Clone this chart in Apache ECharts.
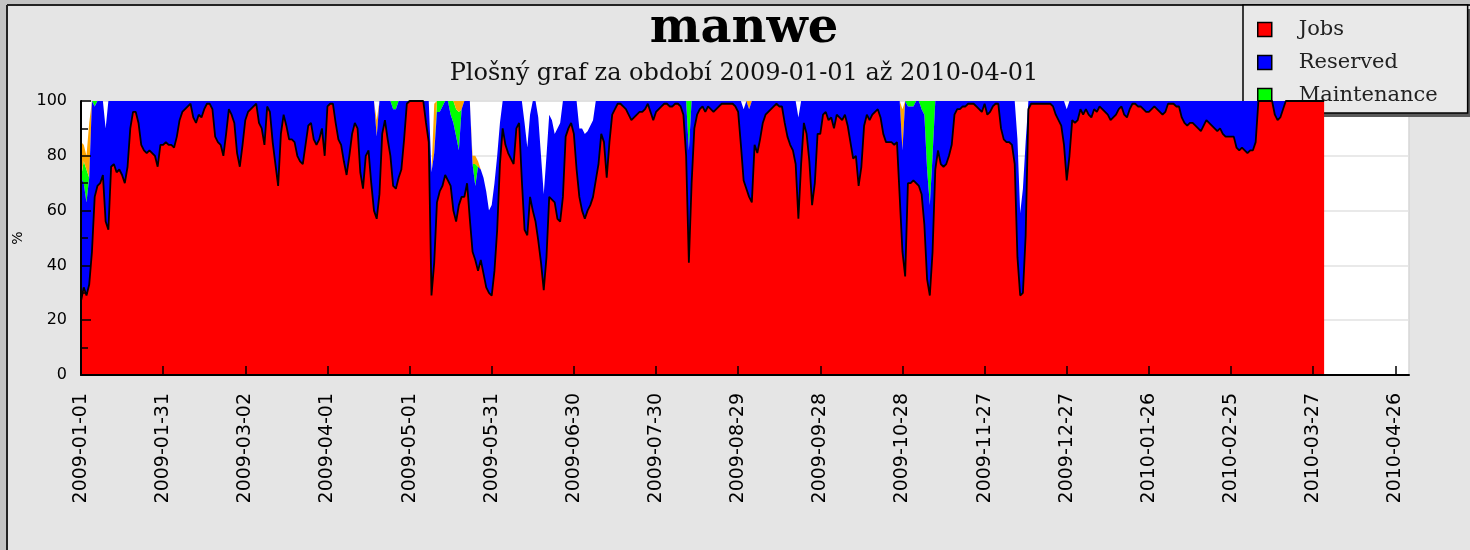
<!DOCTYPE html>
<html><head><meta charset="utf-8">
<script src="https://cdn.jsdelivr.net/npm/echarts@6/dist/echarts.min.js"></script>
<style>html,body{margin:0;padding:0;background:#e5e5e5}#main{width:1470px;height:550px}</style>
</head><body><div id="main"></div>
<script>
const titleText = 'manwe';
const subtitleText = 'Plošný graf za období 2009-01-01 až 2010-04-01';
const legendNames = ['Jobs', 'Reserved', 'Maintenance'];
const tickLabels = ['2009-01-01','2009-01-31','2009-03-02','2009-04-01','2009-05-01','2009-05-31','2009-06-30','2009-07-30','2009-08-29','2009-09-28','2009-10-28','2009-11-27','2009-12-27','2010-01-26','2010-02-25','2010-03-27','2010-04-26'];
const tickStepDays = 30;
const yTicks = [0, 20, 40, 60, 80, 100];
const axisStart = '2009-01-01';
const axisDays = 486;   // 2009-01-01 .. 2010-05-01

// one value per day from 2009-01-01 (%)
const jobs = [
27,32,29,33,45,65,69,70,73,56,
53,76,77,74,75,73,70,76,90,96,
96,92,84,82,81,82,81,80,76,84,
84,85,84,84,83,87,93,96,97,98,
99,94,92,95,94,97,99,99,97,87,
85,84,80,88,97,95,92,81,76,84,
93,96,97,98,99,92,90,84,98,96,
85,77,69,88,95,91,86,86,85,80,
78,77,84,91,92,86,84,86,90,80,
98,99,99,92,86,84,78,73,80,88,
92,90,74,68,80,82,70,60,57,66,
88,93,86,80,69,68,72,75,86,99,
100,100,100,100,100,100,92,85,29,41,
63,67,69,73,71,69,60,56,62,65,
65,70,57,45,42,38,42,37,32,30,
29,38,53,77,90,84,81,79,77,90,
92,71,53,51,65,60,56,49,41,31,
43,65,64,63,57,56,65,87,90,92,
88,75,65,60,57,60,62,65,71,77,
88,85,72,85,95,97,99,99,98,97,
95,93,94,95,96,96,97,99,96,93,
96,97,98,99,99,98,98,99,99,98,
95,80,41,70,90,95,97,98,96,98,
97,96,97,98,99,99,99,99,99,98,
96,84,71,68,65,63,84,81,86,92,
95,96,97,98,99,98,98,92,87,84,
82,77,57,77,92,88,78,62,70,88,
88,95,96,93,94,90,95,94,93,95,
91,85,79,80,69,76,91,95,93,95,
96,97,94,88,85,85,85,84,85,65,
45,36,70,70,71,70,69,66,55,35,
29,45,75,82,77,76,77,80,84,95,
97,97,98,98,99,99,99,98,97,96,
99,95,96,98,99,99,90,86,85,85,
84,77,43,29,30,51,97,99,99,99,
99,99,99,99,99,98,95,93,91,84,
71,80,93,92,93,97,95,97,95,94,
97,96,98,97,96,95,93,94,95,97,
98,95,94,97,99,99,98,98,97,96,
96,97,98,97,96,95,96,99,99,99,
98,98,94,92,91,92,92,91,90,89,
91,93,92,91,90,89,90,88,87,87,
87,87,83,82,83,82,81,82,82,85,
100,100,100,100,100,100,95,93,94,97,
100,100,100,100,100,100,100,100,100,100,
100,100,100,100,100
];
const reserved = [
45,38,34,39,55,33,31,30,27,34,
47,24,23,26,25,27,30,24,10,4,
4,8,16,18,19,18,19,20,24,16,
16,15,16,16,17,13,7,4,3,2,
1,6,8,5,6,3,1,1,3,13,
15,16,20,12,3,5,8,19,24,16,
7,4,3,2,1,8,10,16,2,4,
15,23,31,12,5,9,14,14,15,20,
22,23,16,9,8,14,16,14,10,20,
2,1,1,8,14,16,22,27,20,12,
8,10,26,32,20,18,30,40,30,34,
12,7,14,20,28,29,28,25,14,1,
0,0,0,0,0,0,8,15,45,40,
33,29,29,27,29,26,32,31,20,32,
35,30,43,32,27,38,33,35,35,30,
33,32,27,15,10,16,19,21,23,10,
8,29,39,32,30,40,44,45,39,35,
37,30,29,25,33,36,35,13,10,8,
12,25,25,30,31,29,29,28,29,23,
12,15,28,15,5,3,1,1,2,3,
5,7,6,5,4,4,3,1,4,7,
4,3,2,1,1,2,2,1,1,2,
5,20,41,30,10,5,3,2,4,2,
3,4,3,2,1,1,1,1,1,2,
4,16,26,32,32,37,16,19,14,8,
5,4,3,2,1,2,2,8,13,16,
18,23,37,23,8,12,22,38,30,12,
12,5,4,7,6,10,5,6,7,5,
9,15,21,20,31,24,9,5,7,5,
4,3,6,12,15,15,15,16,15,35,
37,64,28,28,27,30,31,31,40,40,
33,35,25,18,23,24,23,20,16,5,
3,3,2,2,1,1,1,2,3,4,
1,5,4,2,1,1,10,14,15,15,
16,23,43,30,38,34,3,1,1,1,
1,1,1,1,1,2,5,7,9,16,
26,20,7,8,7,3,5,3,5,6,
3,4,2,3,4,5,7,6,5,3,
2,5,6,3,1,1,2,2,3,4,
4,3,2,3,4,5,4,1,1,1,
2,2,6,8,9,8,8,9,10,11,
9,7,8,9,10,11,10,12,13,13,
13,13,17,18,17,18,19,18,18,15,
0,0,0,0,0,0,5,7,6,3,
0,0,0,0,0,0,0,0,0,0,
0,0,0,0,0
];
// [day index, value] for days where it is non-zero
const maintenanceDays = [[1,8],[2,12],[5,2],[114,3],[115,3],[130,4],[131,4],[132,2],[135,5],[136,8],[137,10],[138,14],[144,8],[222,18],[302,2],[303,2],[304,2],[307,3],[308,5],[309,25],[310,38],[311,20]];
const otherDays = [[0,13],[1,6],[2,5],[3,20],[108,6],[129,18],[137,3],[138,4],[139,3],[143,3],[144,3],[145,2],[244,3],[300,15]];

const numDays = jobs.length;
function expand(pairs) { const a = new Array(numDays).fill(0); pairs.forEach(p => { a[p[0]] = p[1]; }); return a; }
const maintenance = expand(maintenanceDays);
const other = expand(otherDays);

const t0 = Date.parse(axisStart + 'T00:00:00Z');
const categories = Array.from({ length: axisDays }, (_, i) => new Date(t0 + i * 86400000).toISOString().slice(0, 10));

function areaSeries(name, data, color, z, line) {
  return {
    name: name, type: 'line', stack: 'total', symbol: 'none', z: z,
    data: data,
    itemStyle: { color: color },
    lineStyle: line ? { color: '#000', width: 1.8 } : { width: 0, opacity: 0 },
    areaStyle: { color: color, opacity: 1 },
    emphasis: { disabled: true },
    silent: true
  };
}

const chart = echarts.init(document.getElementById('main'), null, { renderer: 'canvas' });
chart.setOption({
  animation: false,
  backgroundColor: '#e5e5e5',
  title: {
    text: titleText, subtext: subtitleText, left: 744, textAlign: 'center', top: 6,
    padding: 0, itemGap: 8,
    textStyle: { fontFamily: 'DejaVu Serif', fontWeight: 'bold', fontSize: 48, color: '#000' },
    subtextStyle: { fontFamily: 'DejaVu Serif', fontSize: 24, color: '#111' }
  },
  legend: {
    data: [
      { name: legendNames[0], itemStyle: { color: '#ff0000' } },
      { name: legendNames[1], itemStyle: { color: '#0000ff' } },
      { name: legendNames[2], itemStyle: { color: '#00ff00' } }
    ],
    orient: 'vertical', left: 1243, top: 5, icon: 'rect',
    itemWidth: 14, itemHeight: 14, itemGap: 12,
    itemStyle: { borderColor: '#000', borderWidth: 1.5 },
    backgroundColor: '#e9e9e9', borderColor: '#000', borderWidth: 1.5,
    padding: [14, 30, 7, 14],
    textStyle: { fontFamily: 'DejaVu Serif', fontSize: 21, color: '#222', padding: [0, 0, 0, 22] },
    selectedMode: false
  },
  graphic: [
    { type: 'rect', z: 0, shape: { x: 0, y: 0, width: 1470, height: 5 }, style: { fill: '#c3c3c3' }, silent: true },
    { type: 'rect', z: 0, shape: { x: 0, y: 0, width: 7, height: 550 }, style: { fill: '#c3c3c3' }, silent: true },
    { type: 'line', z: 0, shape: { x1: 7, y1: 5, x2: 1470, y2: 5 }, style: { stroke: '#222', lineWidth: 2 }, silent: true },
    { type: 'line', z: 0, shape: { x1: 7, y1: 5, x2: 7, y2: 550 }, style: { stroke: '#222', lineWidth: 2 }, silent: true },
    { type: 'rect', z: 0, shape: { x: 1247, y: 9, width: 226, height: 108 }, style: { fill: '#5a5a5a' }, silent: true }
  ],
  grid: { left: 81, right: 61, top: 101, bottom: 175, show: true, backgroundColor: '#ffffff', borderColor: '#d6d6d6', borderWidth: 1.5, outerBoundsMode: 'none' },
  xAxis: {
    type: 'category', data: categories, boundaryGap: false, z: 10,
    axisLine: { show: true, lineStyle: { color: '#000', width: 2 } },
    axisTick: { show: true, inside: true, length: 9, interval: i => i % tickStepDays === 0, lineStyle: { color: '#000', width: 1.5 } },
    axisLabel: {
      rotate: 90, margin: 18, fontSize: 19, fontFamily: 'DejaVu Sans', color: '#000',
      interval: i => i % tickStepDays === 0,
      formatter: (v, i) => tickLabels[i / tickStepDays] || ''
    },
    splitLine: { show: false }
  },
  yAxis: [
    {
      type: 'value', min: 0, max: 100, interval: 20, z: 0,
      axisLine: { show: false }, axisTick: { show: false }, axisLabel: { show: false },
      splitLine: { show: true, lineStyle: { color: '#e2e2e2', width: 1.5 } }
    },
    {
      type: 'value', min: 0, max: 100, interval: 20, position: 'left', z: 10,
      name: '%', nameLocation: 'middle', nameRotate: 90, nameGap: 56,
      nameTextStyle: { fontFamily: 'DejaVu Sans', fontSize: 14, color: '#000' },
      axisLine: { show: true, lineStyle: { color: '#000', width: 2 } },
      axisTick: { show: true, inside: true, length: 10, lineStyle: { color: '#000', width: 1.5 } },
      minorTick: { show: true, splitNumber: 2, length: 7, lineStyle: { color: '#000', width: 1.5 } },
      axisLabel: { fontSize: 16, fontFamily: 'DejaVu Sans', margin: 14, color: '#000',
        formatter: v => yTicks.indexOf(v) >= 0 ? String(v) : '' },
      splitLine: { show: false }
    }
  ],
  series: [
    areaSeries('Jobs', jobs, '#ff0000', 5, true),
    areaSeries('Reserved', reserved, '#0000ff', 4, false),
    areaSeries('Maintenance', maintenance, '#00ff00', 3, false),
    areaSeries('Other', other, '#ffa500', 3, false)
  ]
});
</script>
</body></html>
